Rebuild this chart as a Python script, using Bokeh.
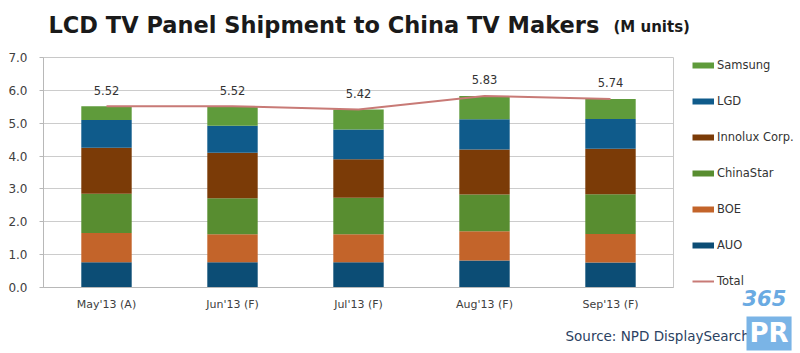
from bokeh.plotting import figure
from bokeh.layouts import column, row
from bokeh.models import (ColumnDataSource, FactorRange, Range1d, Label, Legend, LegendItem,
                          SingleIntervalTicker, NumeralTickFormatter, Title)
from bokeh.core.properties import value
from bokeh.embed import file_html
from bokeh.resources import INLINE

# ---------------- data ----------------
months = ["May'13 (A)", "Jun'13 (F)", "Jul'13 (F)", "Aug'13 (F)", "Sep'13 (F)"]
auo = [0.77, 0.77, 0.77, 0.82, 0.76]
boe = [0.89, 0.85, 0.85, 0.89, 0.87]
chinastar = [1.19, 1.10, 1.11, 1.12, 1.21]
innolux = [1.40, 1.38, 1.17, 1.37, 1.38]
lgd = [0.85, 0.82, 0.91, 0.92, 0.91]
samsung = [0.42, 0.60, 0.61, 0.71, 0.61]
total = [5.52, 5.52, 5.42, 5.83, 5.74]

legend_names = ["Samsung", "LGD", "Innolux Corp.", "ChinaStar", "BOE", "AUO", "Total"]

# ---------------- style ----------------
FONT = "DejaVu Sans"
stack_keys = ["AUO", "BOE", "ChinaStar", "Innolux", "LGD", "Samsung"]
stack_colors = ["#0c4d75", "#c3642a", "#588d30", "#7b3b07", "#0f5b8b", "#5f9b3b"]
color_of = dict(zip(["AUO", "BOE", "ChinaStar", "Innolux Corp.", "LGD", "Samsung"], stack_colors))
total_color = "#c87a76"
TEXT = "#333333"

def blank(w, h, **kw):
    f = figure(width=w, height=h, x_range=Range1d(0, w), y_range=Range1d(0, h),
               x_axis_type=None, y_axis_type=None, output_backend="svg",
               toolbar_location=None, min_border=0, **kw)
    f.outline_line_color = None
    f.xgrid.grid_line_color = None
    f.ygrid.grid_line_color = None
    f.background_fill_color = "white"
    f.border_fill_color = "white"
    return f

# ---------------- header (title) ----------------
header = blank(800, 50)
header.add_layout(Label(x=48, y=26, text="LCD TV Panel Shipment to China TV Makers",
                        text_font=FONT, text_font_style="bold", text_font_size="22.5px",
                        text_color="#1a1a1a", text_baseline="middle"))
header.add_layout(Label(x=613, y=24, text="(M units)", text_font=FONT,
                        text_font_style="bold", text_font_size="15px",
                        text_color="#1a1a1a", text_baseline="middle"))

# ---------------- main chart ----------------
src = ColumnDataSource(dict(month=months, AUO=auo, BOE=boe, ChinaStar=chinastar,
                            Innolux=innolux, LGD=lgd, Samsung=samsung, total=total,
                            label=[f"{t:.2f}" for t in total]))

p = figure(x_range=FactorRange(*months, range_padding=0), y_range=Range1d(0, 7),
           width=690, height=266, output_backend="svg", toolbar_location=None,
           min_border_left=43, min_border_right=17, min_border_top=7, min_border_bottom=29)
p.background_fill_color = "white"
p.border_fill_color = "white"
p.outline_line_color = "#c8c8c8"

p.vbar_stack(stack_keys, x="month", width=0.4, source=src, color=stack_colors, line_color=None)
p.line(x="month", y="total", source=src, line_color=total_color, line_width=2)
p.text(x="month", y="total", text="label", source=src, y_offset=-16,
       text_align="center", text_baseline="middle", text_font=value(FONT),
       text_font_size="11.5px", text_color=TEXT)

p.yaxis.ticker = SingleIntervalTicker(interval=1)
p.yaxis.formatter = NumeralTickFormatter(format="0.0")
p.yaxis.major_label_text_font = FONT
p.yaxis.major_label_text_font_size = "12px"
p.yaxis.major_label_text_color = "#404040"
p.yaxis.axis_line_color = "#b8b8b8"
p.yaxis.major_tick_line_color = "#b8b8b8"
p.yaxis.major_tick_out = 4
p.yaxis.major_tick_in = 0
p.yaxis.minor_tick_line_color = None
p.yaxis.major_label_standoff = 12

p.xaxis.major_label_text_font = FONT
p.xaxis.major_label_text_font_size = "11px"
p.xaxis.major_label_text_color = "#404040"
p.xaxis.axis_line_color = "#b8b8b8"
p.xaxis.major_tick_line_color = None
p.xaxis.major_label_standoff = 4

p.xgrid.grid_line_color = None
p.ygrid.grid_line_color = "#cccccc"
p.ygrid.grid_line_width = 1

# ---------------- side (legend + watermark digits) ----------------
# its frame is aligned with the main chart's frame (canvas y 57..287)
side = blank(110, 266)
side.y_range = Range1d(0, 230)
items = []
for n in legend_names:
    if n == "Total":
        r = side.line(x=[0], y=[0], line_color=total_color, line_width=2)
    else:
        r = side.line(x=[0], y=[0], line_color=color_of[n], line_width=6)
    items.append(LegendItem(label=n, renderers=[r]))
legend = Legend(items=items, location=(2, -4), orientation="vertical",
                glyph_width=22, glyph_height=20, label_height=20, spacing=16,
                label_standoff=3, padding=0, margin=0, border_line_alpha=0,
                background_fill_alpha=0, label_text_font=FONT,
                label_text_font_size="11.5px", label_text_color=TEXT)
side.add_layout(legend, "center")
side.add_layout(Title(text="365", align="left", offset=52, standoff=0,
                      text_font=FONT, text_font_style="bold italic",
                      text_font_size="21px", text_color="#6aaae2"), "below")

# ---------------- footer (source + watermark) ----------------
footer = blank(800, 37)
footer.add_layout(Label(x=565, y=18, text="Source: NPD DisplaySearch", text_font=FONT,
                        text_font_size="13.5px", text_color="#2b4262",
                        text_baseline="middle"))
footer.add_layout(Label(x=746, y=3, text="PR", text_font=FONT, text_font_style="bold",
                        text_font_size="26px", text_color="#ffffff", text_baseline="bottom",
                        background_fill_color="#7ab4e6", padding=3))

layout = column(header, row(p, side, spacing=0), footer, spacing=0)
open("out.html", "w").write(file_html(layout, INLINE))
